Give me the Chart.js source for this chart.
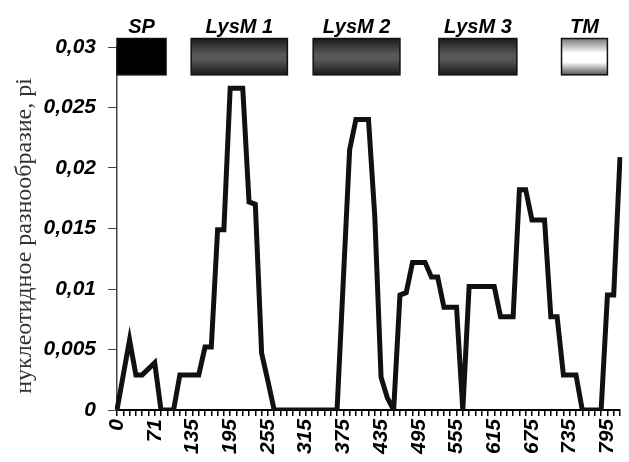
<!DOCTYPE html>
<html>
<head>
<meta charset="utf-8">
<script src="https://cdn.jsdelivr.net/npm/chart.js@4.4.1/dist/chart.umd.min.js"></script>
<style>
  html, body { margin: 0; padding: 0; background: #fff; }
</style>
</head>
<body>
<canvas id="chart" width="629" height="462"></canvas>
<script>
// x labels shown at every 6th window
const tickLabels = ["0", "71", "135", "195", "255", "315", "375", "435", "495", "555", "615", "675", "735", "795"];
const tickEvery = 6;

// nucleotide diversity (pi) per sliding window
const diversity = [
  0, 0.0029, 0.0058, 0.0029, 0.0029, 0.0034, 0.0039, 0, 0, 0,
  0.0029, 0.0029, 0.0029, 0.0029, 0.0052, 0.0052, 0.0149, 0.0149, 0.0266, 0.0266,
  0.0266, 0.0172, 0.017, 0.0047, 0.0024, 0, 0, 0, 0, 0,
  0, 0, 0, 0, 0, 0, 0.0108, 0.0215, 0.024, 0.024,
  0.024, 0.016, 0.0027, 0.001, 0, 0.0095, 0.0097, 0.0122, 0.0122, 0.0122,
  0.011, 0.011, 0.0085, 0.0085, 0.0085, 0, 0.0102, 0.0102, 0.0102, 0.0102,
  0.0102, 0.0077, 0.0077, 0.0077, 0.0182, 0.0182, 0.0157, 0.0157, 0.0157, 0.0077,
  0.0077, 0.0029, 0.0029, 0.0029, 0, 0, 0, 0, 0.0095, 0.0095,
  0.0209
];
const windows = diversity.map((_, i) => i);

// protein domains, in window units
const domainNames = ["SP", "LysM 1", "LysM 2", "LysM 3", "TM"];
const domainStart = [0, 11.8, 31.2, 51.2, 70.7];
const domainEnd = [7.8, 27.1, 45.0, 63.6, 78.0];
const domainKinds = ["signal", "lysm", "lysm", "lysm", "tm"];
const domainTop = 0.0307;
const domainBottom = 0.0277;

const yTitle = "нуклеотидное разнообразие, pi";

const boldItalic = { family: "'Liberation Sans', Arial, sans-serif", size: 21, weight: "bold", style: "italic" };

function formatPi(value) {
  return String(Number(value.toFixed(4))).replace(".", ",");
}

const domainPlugin = {
  id: "domains",
  afterDraw(chart) {
    const { ctx } = chart;
    const x = chart.scales.x;
    const y = chart.scales.y;
    const top = y.getPixelForValue(domainTop);
    const bottom = y.getPixelForValue(domainBottom);
    ctx.save();
    domainNames.forEach((name, i) => {
      const left = x.getPixelForValue(domainStart[i]);
      const right = x.getPixelForValue(domainEnd[i]);
      let fill;
      if (domainKinds[i] === "signal") {
        fill = "#000";
      } else {
        const g = ctx.createLinearGradient(0, top, 0, bottom);
        if (domainKinds[i] === "lysm") {
          g.addColorStop(0, "#1a1a1a");
          g.addColorStop(0.45, "#5a5a5a");
          g.addColorStop(0.6, "#555");
          g.addColorStop(1, "#1a1a1a");
        } else {
          g.addColorStop(0, "#777");
          g.addColorStop(0.4, "#fff");
          g.addColorStop(0.65, "#fff");
          g.addColorStop(1, "#555");
        }
        fill = g;
      }
      ctx.fillStyle = fill;
      ctx.fillRect(left, top, right - left, bottom - top);
      ctx.strokeStyle = "#111";
      ctx.lineWidth = 1.5;
      ctx.strokeRect(left, top, right - left, bottom - top);

      ctx.fillStyle = "#000";
      ctx.font = "italic bold 20px 'Liberation Sans', Arial, sans-serif";
      ctx.textAlign = "center";
      ctx.textBaseline = "alphabetic";
      ctx.fillText(name, (left + right) / 2, top - 6);
    });

    // axis title, placed like the original (a bit below the plot centre)
    ctx.translate(25, 236);
    ctx.rotate(-Math.PI / 2);
    ctx.fillStyle = "#333";
    ctx.font = "24px 'Liberation Serif', 'Times New Roman', serif";
    ctx.textAlign = "center";
    ctx.textBaseline = "middle";
    ctx.fillText(yTitle, 0, 0);
    ctx.restore();
  }
};

new Chart(document.getElementById("chart"), {
  type: "line",
  data: {
    labels: windows,
    datasets: [{
      data: diversity,
      borderColor: "#111",
      borderWidth: 5,
      pointRadius: 0,
      tension: 0,
      fill: false
    }]
  },
  options: {
    responsive: false,
    animation: false,
    layout: { padding: { top: 47, right: 9, left: 0, bottom: 0 } },
    plugins: {
      legend: { display: false },
      tooltip: { enabled: false }
    },
    scales: {
      x: {
        type: "category",
        offset: false,
        border: { color: "#000", width: 2 },
        grid: { display: true, drawOnChartArea: false, color: "#000", tickLength: 6, lineWidth: 1.5 },
        ticks: {
          autoSkip: false,
          maxRotation: 90,
          minRotation: 90,
          padding: 3,
          color: "#000",
          font: boldItalic,
          callback: (value, index) => (index % tickEvery === 0 ? tickLabels[index / tickEvery] : "")
        },
        afterFit: (scale) => {
          scale.height = 52;
          scale.paddingLeft = 0;
          scale.paddingRight = 0;
        }
      },
      y: {
        min: 0,
        max: 0.03,
        border: { color: "#444", width: 1.5 },
        grid: { display: true, drawOnChartArea: false, color: "#444", tickLength: 9 },
        ticks: {
          stepSize: 0.005,
          padding: 12,
          color: "#000",
          font: boldItalic,
          callback: (value) => formatPi(value)
        },
        afterFit: (scale) => {
          scale.width = 117;
          scale.paddingTop = 0;
          scale.paddingBottom = 0;
        }
      }
    }
  },
  plugins: [domainPlugin]
});
</script>
</body>
</html>
